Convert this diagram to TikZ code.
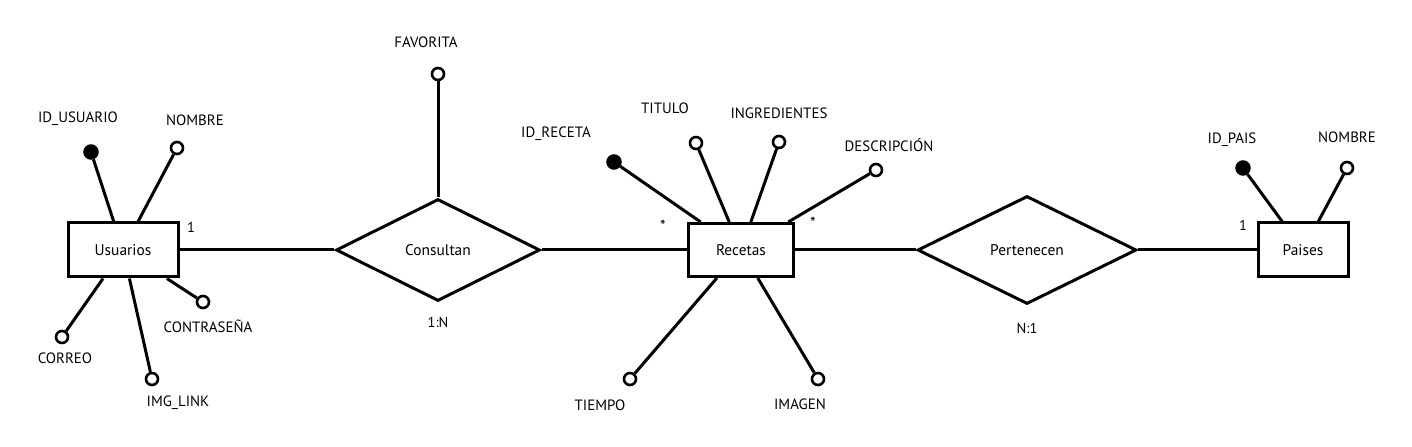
\documentclass[tikz,border=0pt]{standalone}
\usepackage{fontspec}
\setmainfont{PT Sans}
\usetikzlibrary{shapes.geometric}
\begin{document}
\begin{tikzpicture}[x=1bp,y=-1bp,line width=3bp,
  entity/.style={draw,rectangle,inner sep=0pt,font=\fontsize{15.5}{18}\selectfont},
  rel/.style={draw,diamond,inner sep=0pt,font=\fontsize{15.5}{18}\selectfont},
  attr/.style={draw,circle,fill=white,minimum size=12bp,inner sep=0pt,line width=2.6bp},
  pkey/.style={draw,circle,fill=black,minimum size=14bp,inner sep=0pt,line width=1.5bp},
  lbl/.style={font=\fontsize{15}{18}\selectfont,inner sep=0pt},
  card/.style={font=\fontsize{14.5}{17}\selectfont,inner sep=0pt},
  star/.style={font=\fontsize{16}{18}\selectfont,inner sep=0pt}]
\useasboundingbox (0,0) rectangle (1412,447);
% entities
\node[entity,minimum width=110bp,minimum height=54bp] (usu) at (123,250) {Usuarios};
\node[entity,minimum width=105bp,minimum height=53bp] (rec) at (741,250) {Recetas};
\node[entity,minimum width=90bp,minimum height=54bp] (pai) at (1303,250) {Paises};
% relations
\node[rel,minimum width=204bp,minimum height=102bp] (con) at (438,250) {Consultan};
\node[rel,minimum width=219bp,minimum height=108bp] (per) at (1027,250) {Pertenecen};
% attributes of Usuarios
\node[pkey] (uid) at (91,152) {};
\node[attr] (unom) at (177,148) {};
\node[attr] (ucor) at (62,337) {};
\node[attr] (uimg) at (152,379) {};
\node[attr] (ucon) at (203,302) {};
% attribute of Consultan
\node[attr] (fav) at (438,74) {};
% attributes of Recetas
\node[pkey] (rid) at (614,162) {};
\node[attr] (rtit) at (696,143) {};
\node[attr] (ring) at (779,142) {};
\node[attr] (rdes) at (876,170) {};
\node[attr] (rtie) at (630,379) {};
\node[attr] (rima) at (818,379) {};
% attributes of Paises
\node[pkey] (pid) at (1243,168) {};
\node[attr] (pnom) at (1347,168) {};
% connectors
\draw (uid) -- (usu);
\draw (unom) -- (usu);
\draw (ucor) -- (usu);
\draw (uimg) -- (usu);
\draw (ucon) -- (usu);
\draw (fav) -- (con.north);
\draw (rid) -- (rec);
\draw (rtit) -- (rec);
\draw (ring) -- (rec);
\draw (rdes) -- (rec);
\draw (rtie) -- (rec);
\draw (rima) -- (rec);
\draw (pid) -- (pai);
\draw (pnom) -- (pai);
\draw (usu) -- (con);
\draw (con) -- (rec);
\draw (rec) -- (per);
\draw (per) -- (pai);
% labels
\node[lbl] (luid) at (78,119) {ID\_USUARIO};
\node[lbl] (lunom) at (195,120) {NOMBRE};
\node[lbl] (lucor) at (65,358) {CORREO};
\node[lbl] (luimg) at (178,403) {IMG\_LINK};
\node[lbl] (lucon) at (208,326) {CONTRASEÑA};
\node[lbl] (lfav) at (426,42) {FAVORITA};
\node[lbl] (lrid) at (556,134) {ID\_RECETA};
\node[lbl] (lrtit) at (665,108) {TITULO};
\node[lbl] (lring) at (779,113) {INGREDIENTES};
\node[lbl] (lrdes) at (889,145) {DESCRIPCIÓN};
\node[lbl] (lrtie) at (600,405) {TIEMPO};
\node[lbl] (lrima) at (800,404) {IMAGEN};
\node[lbl] (lpid) at (1232,140) {ID\_PAIS};
\node[lbl] (lpnom) at (1347,137) {NOMBRE};
% cardinalities
\node[card] (c1) at (191,227) {1};
\node[card] (c2) at (438,322) {1:N};
\node[star] (c3) at (663,226) {*};
\node[star] (c4) at (813,223) {*};
\node[card] (c5) at (1027,328) {N:1};
\node[card] (c6) at (1243,225) {1};
\end{tikzpicture}
\end{document}
